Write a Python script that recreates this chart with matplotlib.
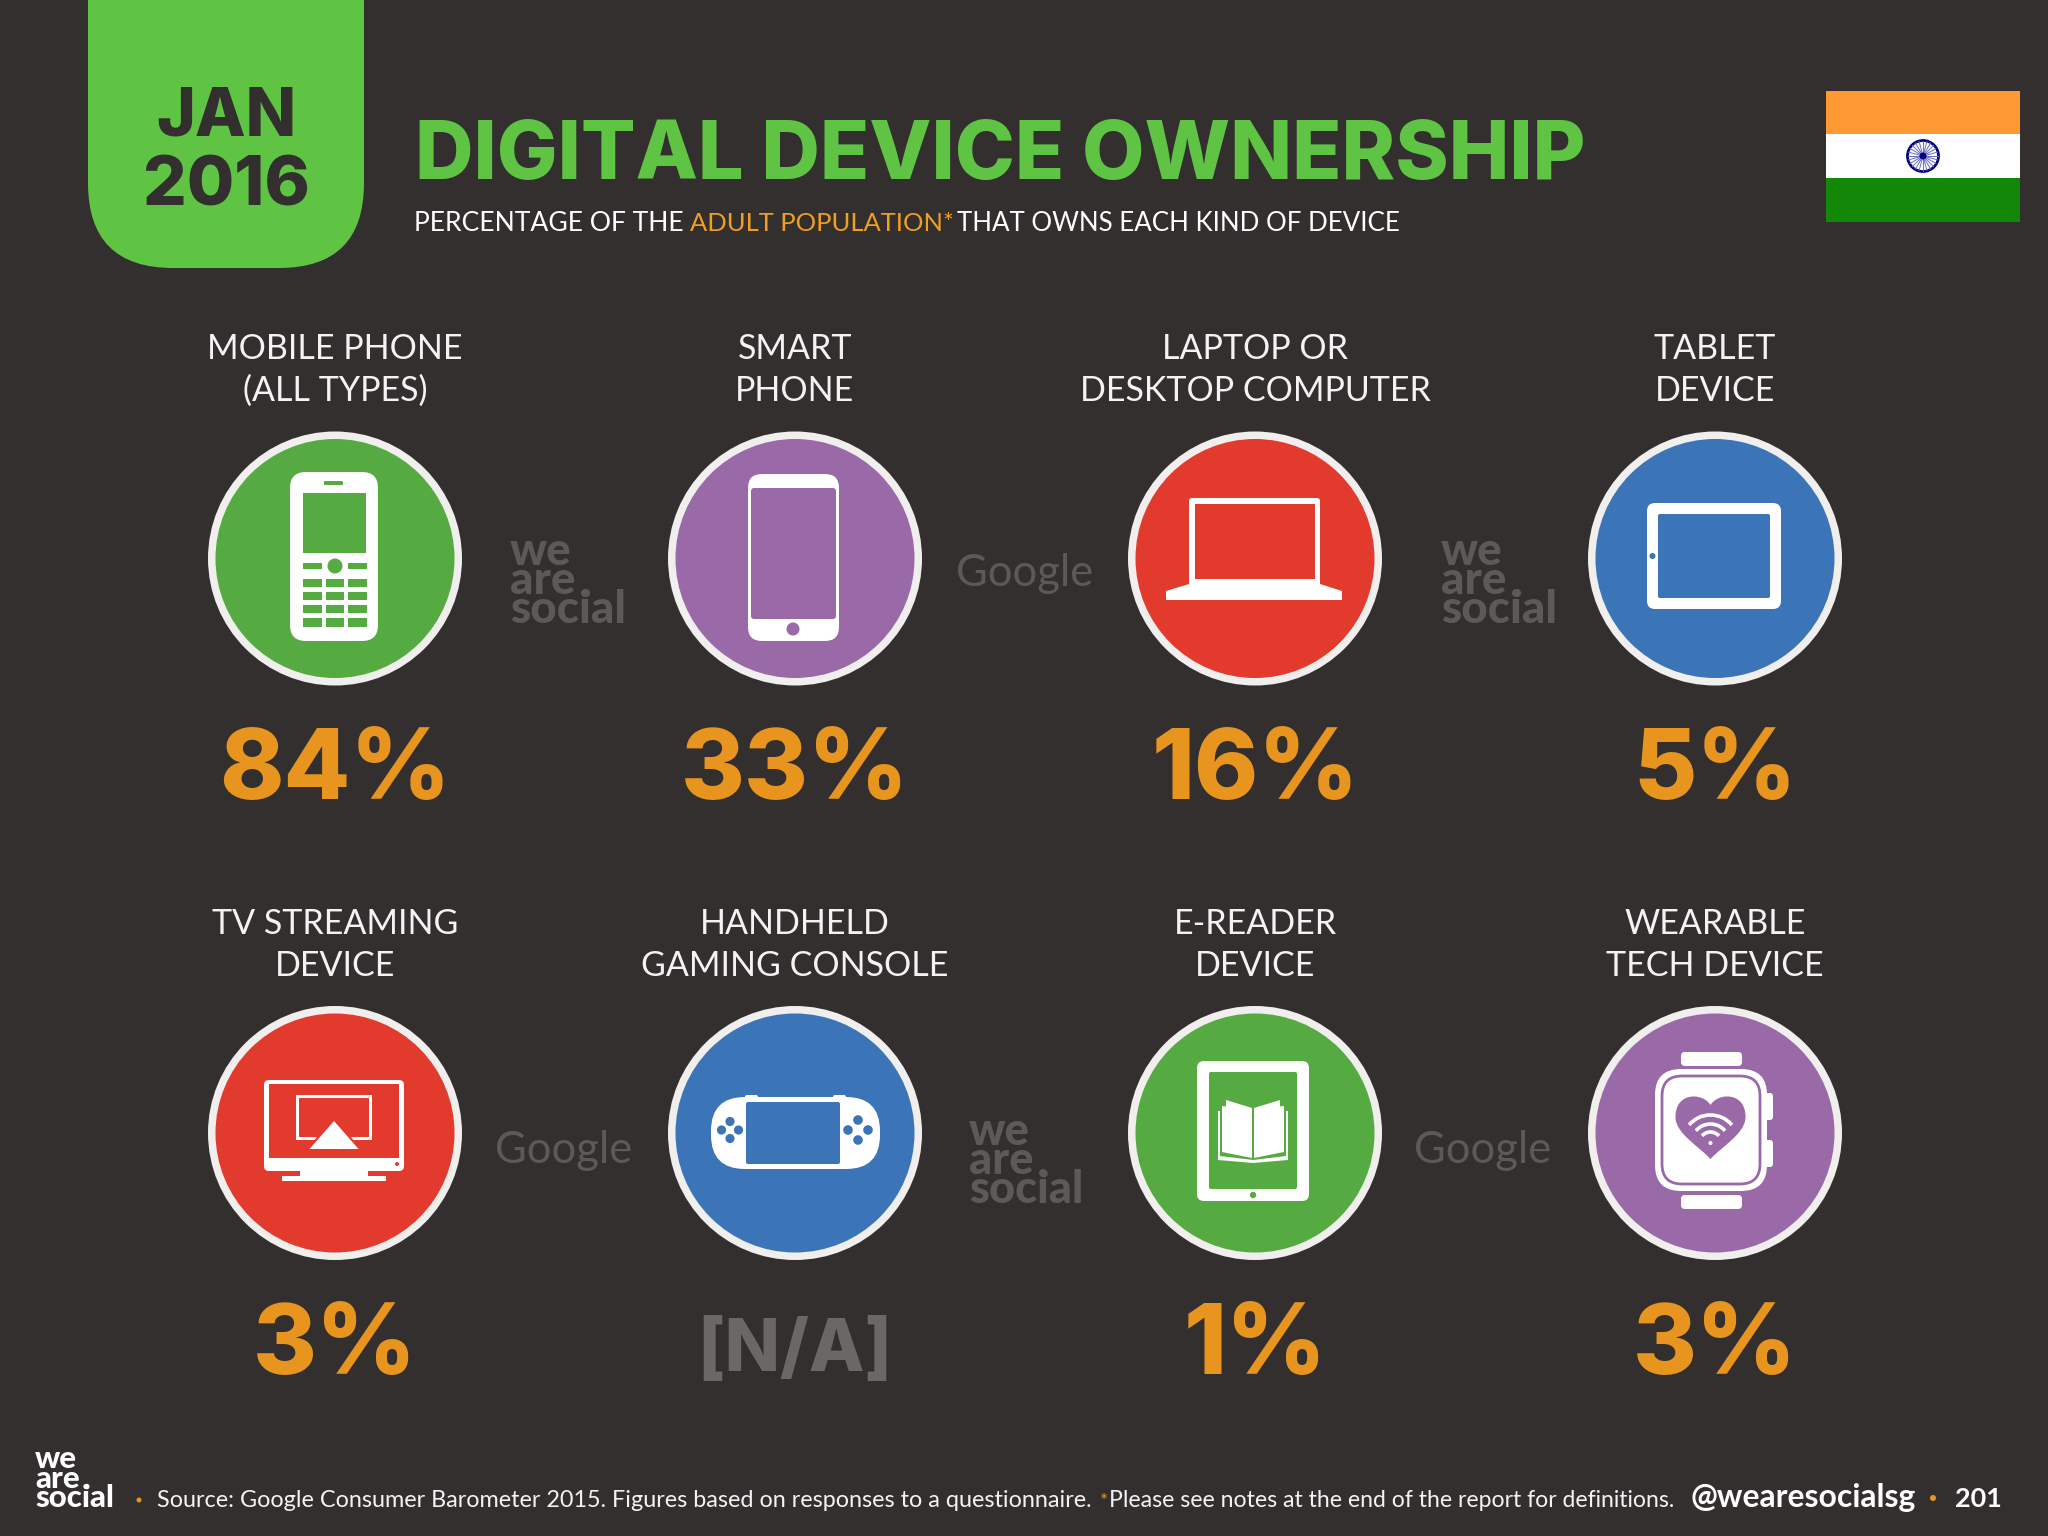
import numpy as np
import matplotlib
matplotlib.use("Agg")
import matplotlib.pyplot as plt
from matplotlib.patches import Circle, Rectangle, Polygon, FancyBboxPatch, PathPatch, Arc
from matplotlib.path import Path

# data
labels = [
    ["MOBILE PHONE", "(ALL TYPES)"], ["SMART", "PHONE"],
    ["LAPTOP OR", "DESKTOP COMPUTER"], ["TABLET", "DEVICE"],
    ["TV STREAMING", "DEVICE"], ["HANDHELD", "GAMING CONSOLE"],
    ["E-READER", "DEVICE"], ["WEARABLE", "TECH DEVICE"],
]
values = [84, 33, 16, 5, 3, None, 1, 3]
title = "DIGITAL DEVICE OWNERSHIP"
date_lines = ["JAN", "2016"]

BG = "#332F2F"
GREEN = "#55AB42"
PURPLE = "#9A69A8"
RED = "#E23B2E"
BLUE = "#3B75B8"
RING = "#F1EEEE"
ORANGE = "#E8951F"
WM = "#5C5959"
WHITE = "#FFFFFF"
HEAVY = ["Inter", "Lato", "DejaVu Sans"]
circle_colors = [GREEN, PURPLE, RED, BLUE, RED, BLUE, GREEN, PURPLE]
col_x = [335, 795, 1255, 1715]
row_y = [558.5, 1133]

plt.rcParams["font.family"] = ["Lato", "DejaVu Sans"]
fig = plt.figure(figsize=(20.48, 15.36), dpi=100, facecolor=BG)
ax = fig.add_axes([0, 0, 1, 1])
ax.set_xlim(0, 2048)
ax.set_ylim(1536, 0)
ax.axis("off")
renderer = fig.canvas.get_renderer()


def rect(x0, y0, x1, y1, c, z=3):
    ax.add_patch(Rectangle((x0, y0), x1 - x0, y1 - y0, fc=c, lw=0, zorder=z))


def rrect(x0, y0, x1, y1, r, c, z=3):
    ax.add_patch(FancyBboxPatch((x0, y0), x1 - x0, y1 - y0, boxstyle=f"round,pad=0,rounding_size={r}",
                                fc=c, lw=0, zorder=z))


def dot(x, y, r, c, z=3):
    ax.add_patch(Circle((x, y), r, fc=c, lw=0, zorder=z))


def fit(t, width):
    # resize a text until it is as wide as on the slide
    bb = t.get_window_extent(renderer)
    t.set_fontsize(t.get_fontsize() * width / bb.width)
    return t


def logo(x, baseline, social_w, color, spacing=0.62, z=2):
    t = ax.text(x, baseline, "we\nare\nsocial", color=color, fontweight="black", fontsize=30,
                linespacing=spacing, zorder=z)
    fit(t, social_w)
    dot(x + social_w * 0.655, baseline - 30 * social_w / 116, social_w * 0.035, color, z)


def icon_mobile(cx, cy, c):
    rrect(290, 472, 378, 641, 16, WHITE)
    rect(303, 493, 366, 553, c, 4)
    rrect(324, 481, 343, 485, 1, c, 4)
    rect(303, 563, 322, 569, c, 4)
    rect(348, 563, 367, 569, c, 4)
    dot(335, 566, 7.5, c, 4)
    for y0, y1 in [(579, 587), (592, 600), (605, 613), (618, 627)]:
        for x0, x1 in [(303, 322), (326, 344), (348, 367)]:
            rect(x0, y0, x1, y1, c, 4)


def icon_smart(cx, cy, c):
    rrect(748, 474, 839, 641, 14, WHITE)
    rrect(751, 488, 836, 619, 3, c, 4)
    dot(793, 629, 6.5, c, 4)


def icon_laptop(cx, cy, c):
    rrect(1189, 498, 1320, 590, 3, WHITE)
    rect(1195, 504, 1315, 579, c, 4)
    ax.add_patch(Polygon([(1189, 584), (1320, 584), (1342, 591), (1342, 600), (1166, 600), (1166, 591)],
                         fc=WHITE, lw=0, zorder=3))


def icon_tablet(cx, cy, c):
    rrect(1647, 503, 1781, 609, 8, WHITE)
    rrect(1658, 514, 1770, 598, 2, c, 4)
    dot(1652.5, 556, 3, c, 4)


def icon_tv(cx, cy, c):
    rrect(264, 1080, 404, 1171, 5, WHITE)
    rect(269, 1084, 399, 1158, c, 4)
    rect(296, 1095, 372, 1140, WHITE, 5)
    rect(299, 1098, 369, 1137, c, 5)
    ax.add_patch(Polygon([(334, 1116), (304, 1153), (364, 1153)], fc=c, lw=0, zorder=5))
    ax.add_patch(Polygon([(334, 1121), (309.5, 1149), (358.5, 1149)], fc=WHITE, lw=0, zorder=6))
    rect(300, 1170, 368, 1177, WHITE)
    rect(282, 1176, 386, 1181, WHITE)
    dot(397, 1164, 2, c, 4)


def icon_console(cx, cy, c):
    rrect(745, 1095, 758, 1100, 2, WHITE)
    rrect(833, 1095, 846, 1100, 2, WHITE)
    rrect(711, 1097, 880, 1169, 34, WHITE)
    rrect(746, 1102, 840, 1164, 2, c, 4)
    for bx, off, r in [(730, 8.5, 4.6), (858, 10, 4.8)]:
        for dx, dy in [(0, -1), (0, 1), (-1, 0), (1, 0)]:
            dot(bx + dx * off, 1130 + dy * off, r, c, 4)


def icon_ereader(cx, cy, c):
    rrect(1197, 1061, 1309, 1201, 7, WHITE)
    rrect(1209, 1072, 1297, 1189, 2, c, 4)
    dot(1253, 1195, 3.2, c, 4)
    # stacked pages behind the open book
    ax.add_patch(Polygon([(1218, 1111), (1220, 1111), (1220, 1156), (1253, 1160), (1286, 1156), (1286, 1111),
                          (1288, 1111), (1288, 1160), (1253, 1163), (1218, 1160)], fc=WHITE, lw=0, zorder=5))
    ax.add_patch(Polygon([(1222, 1106), (1252, 1109), (1252, 1158), (1222, 1152)], fc=WHITE, lw=0, zorder=5))
    ax.add_patch(Polygon([(1284, 1106), (1254, 1109), (1254, 1158), (1284, 1152)], fc=WHITE, lw=0, zorder=5))
    ax.add_patch(Polygon([(1226, 1100), (1252, 1108), (1252, 1156), (1226, 1148)], fc=WHITE, lw=0, zorder=5))
    ax.add_patch(Polygon([(1280, 1100), (1254, 1108), (1254, 1156), (1280, 1148)], fc=WHITE, lw=0, zorder=5))


def icon_watch(cx, cy, c):
    rrect(1681, 1052, 1742, 1066, 4, WHITE)
    rrect(1681, 1195, 1742, 1209, 4, WHITE)
    rrect(1762, 1093, 1773, 1120, 3, WHITE)
    rrect(1762, 1140, 1773, 1167, 3, WHITE)
    rrect(1655, 1069, 1767, 1191, 26, WHITE)
    ax.add_patch(FancyBboxPatch((1662, 1076), 98, 108, boxstyle="round,pad=0,rounding_size=20",
                                fc="none", ec=c, lw=2, zorder=4))
    # heart with a wifi sign inside
    hx, top, tip = 1710.5, 1105, 1159
    verts = [(hx, top), (hx - 8, 1092), (hx - 36, 1092), (hx - 35, 1118),
             (hx - 34, 1134), (hx - 12, 1146), (hx, tip),
             (hx + 12, 1146), (hx + 34, 1134), (hx + 35, 1118),
             (hx + 36, 1092), (hx + 8, 1092), (hx, top)]
    codes = [Path.MOVETO] + [Path.CURVE4] * 12
    ax.add_patch(PathPatch(Path(verts, codes), fc=c, lw=0, zorder=5))
    for rad in [11, 19, 28]:
        ax.add_patch(Arc((hx, 1143), 2 * rad, 2 * rad, theta1=220, theta2=320, ec=WHITE, lw=2.6, zorder=6))
    dot(hx, 1143, 2, WHITE, 6)


icons = [icon_mobile, icon_smart, icon_laptop, icon_tablet, icon_tv, icon_console, icon_ereader, icon_watch]

# header
rrect(88, -100, 364, 268, 85, "#5FC443", 1)
fit(ax.text(226, 135, date_lines[0], ha="center", color=BG, family=HEAVY, fontweight=800, fontsize=50), 140)
fit(ax.text(226, 205, date_lines[1], ha="center", color=BG, family=HEAVY, fontweight=800, fontsize=50), 167)
fit(ax.text(415, 179, title, color="#5FC443", family=HEAVY, fontweight=800, fontsize=60), 1170)
for s, x0, w, col in [("PERCENTAGE OF THE", 414, 270, WHITE), ("ADULT POPULATION*", 690, 262, "#F0A020"),
                      ("THAT OWNS EACH KIND OF DEVICE", 957, 442, WHITE)]:
    fit(ax.text(x0, 231, s, color=col, fontsize=20), w)

# flag
rect(1826, 91, 2020, 134, "#FF9933")
rect(1826, 134, 2020, 178, WHITE)
rect(1826, 178, 2020, 222, "#138808")
ax.add_patch(Circle((1923, 156), 15.5, fc=WHITE, ec="#000080", lw=2, zorder=4))
for a in np.arange(0, 360, 15):
    ax.plot([1923, 1923 + 15 * np.cos(np.radians(a))], [156, 156 + 15 * np.sin(np.radians(a))],
            color="#6A6AC0", lw=0.7, zorder=5)
dot(1923, 156, 3.5, "#000080", 6)

# the eight devices
for i, (lab, val) in enumerate(zip(labels, values)):
    cx, cy = col_x[i % 4], row_y[i // 4]
    c = circle_colors[i]
    ax.add_patch(Circle((cx, cy), 127, fc=RING, lw=0, zorder=2))
    ax.add_patch(Circle((cx, cy), 119.5, fc=c, lw=0, zorder=2))
    icons[i](cx, cy, c)
    base = cy - 199.5
    ax.text(cx, base, lab[0], ha="center", color="#F4F2F2", fontsize=24.5)
    ax.text(cx, base + 42, lab[1], ha="center", color="#F4F2F2", fontsize=24.5)
    if val is None:
        ax.text(cx, cy + 238, "[N/A]", ha="center", color="#6B6766", family=HEAVY, fontweight=800, fontsize=52)
    else:
        ax.text(cx, cy + 241, f"{val}%", ha="center", color=ORANGE, family=HEAVY, fontweight=800, fontsize=70)

# watermarks
logo(510, 623, 116, WM)
logo(1441, 623, 116, WM)
logo(969, 1203, 114, WM)
for x0, y0 in [(956, 586), (495, 1163), (1414, 1163)]:
    fit(ax.text(x0, y0, "Google", color=WM, fontsize=40), 137)

# footer
logo(35, 1507, 79, WHITE)
dot(139, 1500, 2.5, ORANGE)
fit(ax.text(157, 1507, "Source: Google Consumer Barometer 2015. Figures based on responses to a questionnaire.",
            color="#F4F2F2", fontsize=15), 935)
fit(ax.text(1100, 1507, "*", color=ORANGE, fontsize=15), 8)
fit(ax.text(1109, 1507, "Please see notes at the end of the report for definitions.", color="#F4F2F2", fontsize=15), 565)
fit(ax.text(1690, 1507, "@wearesocialsg", color=WHITE, fontweight="bold", fontsize=22), 225)
dot(1933, 1498, 3, ORANGE)
fit(ax.text(1955, 1507, "201", color=WHITE, fontweight="bold", fontsize=20), 47)

fig.savefig("out.png", dpi=100, facecolor=BG)
